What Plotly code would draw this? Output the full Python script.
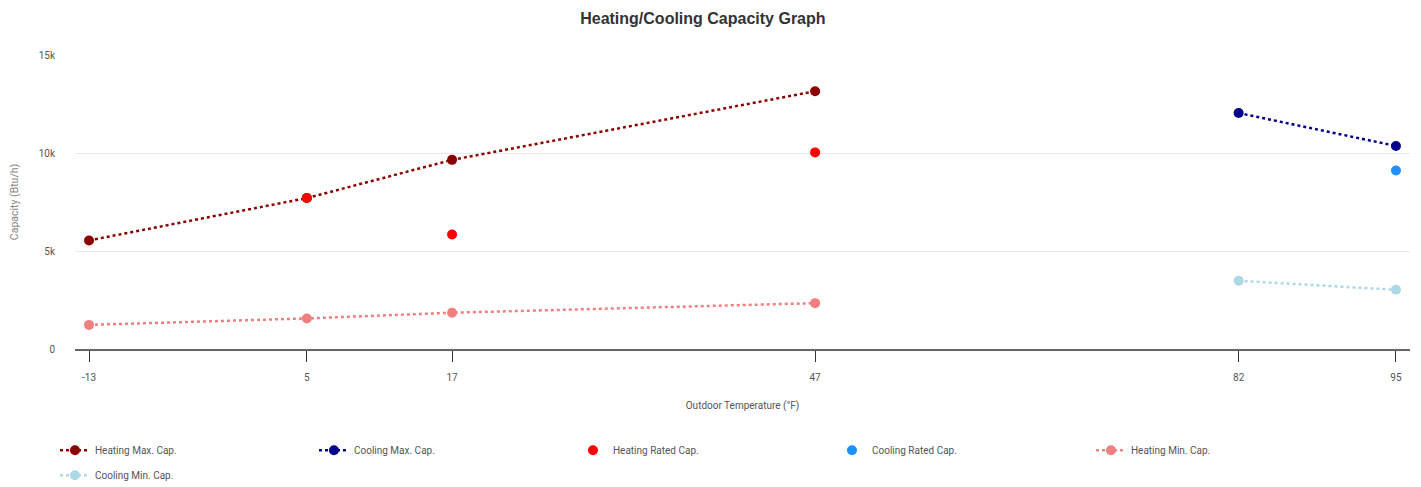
import plotly.graph_objects as go

temps_heat = [-13, 5, 17, 47]
heat_max = [5540, 7700, 9650, 13150]
heat_rated_x = [5, 17, 47]
heat_rated = [7700, 5840, 10030]
heat_min = [1230, 1560, 1850, 2340]

temps_cool = [82, 95]
cool_max = [12040, 10360]
cool_rated_x = [95]
cool_rated = [9110]
cool_min = [3480, 3020]

tick_vals = [-13, 5, 17, 47, 82, 95]
tick_text = ["-13", "5", "17", "47", "82", "95"]
y_tick_vals = [0, 5000, 10000, 15000]
y_tick_text = ["0", "5k", "10k", "15k"]

FONT = "Roboto"

fig = go.Figure()

def line_trace(x, y, name, color, legend="legend"):
    return go.Scatter(x=x, y=y, name=name, mode="lines+markers", legend=legend,
                      line=dict(color=color, width=2.5, dash="dot"),
                      marker=dict(color=color, size=10))

def dot_trace(x, y, name, color, legend="legend"):
    return go.Scatter(x=x, y=y, name=name, mode="markers", legend=legend,
                      marker=dict(color=color, size=10))

fig.add_trace(line_trace(temps_heat, heat_max, "Heating Max. Cap.", "#8B0000"))
fig.add_trace(line_trace(temps_cool, cool_max, "Cooling Max. Cap.", "#00008B"))
fig.add_trace(dot_trace(heat_rated_x, heat_rated, "Heating Rated Cap.", "#FF0000"))
fig.add_trace(dot_trace(cool_rated_x, cool_rated, "Cooling Rated Cap.", "#1E90FF"))
fig.add_trace(line_trace(temps_heat, heat_min, "Heating Min. Cap.", "#F08080"))
fig.add_trace(line_trace(temps_cool, cool_min, "Cooling Min. Cap.", "#ADD8E6", legend="legend2"))

legend_common = dict(orientation="h", xanchor="left", yanchor="top",
                     entrywidth=214, entrywidthmode="pixels",
                     font=dict(family=FONT, size=10, color="#555"))

fig.update_layout(
    width=1421, height=495,
    margin=dict(l=67, r=19, t=47, b=154),
    paper_bgcolor="white", plot_bgcolor="white",
    font=dict(family=FONT, size=10, color="#555"),
    title=dict(text="<b>Heating/Cooling Capacity Graph</b>", x=0.489, xanchor="center",
               y=1 - 10 / 495, yanchor="middle",
               font=dict(family="Liberation Sans", size=16, color="#333")),
    xaxis=dict(range=[-14.16, 96.16], tickvals=tick_vals, ticktext=tick_text,
               ticks="outside", ticklen=11, tickcolor="#333", tickwidth=1.2,
               ticklabelstandoff=7, showgrid=False, zeroline=False, automargin=False,
               showline=True, linecolor="#666", linewidth=1.5,
               tickfont=dict(size=10, color="#555"),
               title=dict(text="Outdoor Temperature (°F)", standoff=20,
                          font=dict(size=10, color="#555"))),
    yaxis=dict(range=[0, 15000], tickvals=y_tick_vals, ticktext=y_tick_text,
               showgrid=True, gridcolor="#e8e8e8", gridwidth=1, zeroline=False,
               showline=False, ticks="", ticklabelstandoff=19, automargin=False,
               tickfont=dict(size=10, color="#555"),
               title=dict(text="Capacity (Btu/h)", standoff=19,
                          font=dict(size=10.5, color="#888"))),
    legend=dict(x=-0.015, y=-0.295, **legend_common),
    legend2=dict(x=-0.015, y=-0.380, **legend_common),
    showlegend=True,
)

fig.write_html("out.html")
